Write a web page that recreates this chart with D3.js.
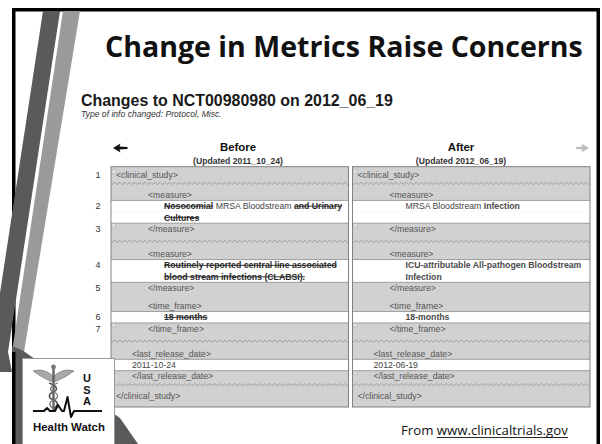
<!DOCTYPE html>
<html><head><meta charset="utf-8">
<script src="https://cdn.jsdelivr.net/npm/d3@7/dist/d3.min.js"></script>
<style>html,body{margin:0;padding:0;background:#fff;overflow:hidden}</style>
</head><body><svg id="c" width="602" height="444"></svg>
<script>
// ---------- data ----------
const slideTitle = "Change in Metrics Raise Concerns";
const pageHeading = "Changes to NCT00980980 on 2012_06_19";
const changeType = ["Type of info changed:", " Protocol, Misc."];
const versions = ["before", "after"];
const versionLabels = ["Before", "After"];
const versionDates = ["(Updated 2011_10_24)", "(Updated 2012_06_19)"];
const lineKinds = ["tag","waveS","tag","text","text","tag","waveL","tag","text","text","tag","gap","tag","text","tag","waveL","tag","text","tag","waveS","tag"];
const lineNumbers = [1,null,null,2,null,3,null,null,4,null,5,null,null,6,7,null,null,null,null,null,null];
const lineDepth = [0,0,2,3,3,2,0,2,3,3,2,0,2,3,2,0,1,1,1,0,0];
const lineMarker = [true,false,false,false,false,true,false,false,false,false,false,false,false,false,true,false,false,false,true,false,false];
const beforeText = [
  [["<clinical_study>","tag"]], [],
  [["<measure>","tag"]],
  [["Nosocomial","del"],[" MRSA Bloodstream ","same"],["and Urinary","del"]],
  [["Cultures","del"]],
  [["</measure>","tag"]], [],
  [["<measure>","tag"]],
  [["Routinely reported central line associated","del"]],
  [["blood stream infections (CLABSI).","del"]],
  [["</measure>","tag"]], [],
  [["<time_frame>","tag"]],
  [["18 months","del"]],
  [["</time_frame>","tag"]], [],
  [["<last_release_date>","tag"]],
  [["2011-10-24","same"]],
  [["</last_release_date>","tag"]], [],
  [["</clinical_study>","tag"]]
];
const afterText = [
  [["<clinical_study>","tag"]], [],
  [["<measure>","tag"]],
  [["MRSA Bloodstream ","same"],["Infection","ins"]],
  [],
  [["</measure>","tag"]], [],
  [["<measure>","tag"]],
  [["ICU-attributable All-pathogen Bloodstream","ins"]],
  [["Infection","ins"]],
  [["</measure>","tag"]], [],
  [["<time_frame>","tag"]],
  [["18-months","ins"]],
  [["</time_frame>","tag"]], [],
  [["<last_release_date>","tag"]],
  [["2012-06-19","same"]],
  [["</last_release_date>","tag"]], [],
  [["</clinical_study>","tag"]]
];
const sourceText = ["From ", "www.clinicaltrials.gov"];
const logoLetters = ["U", "S", "A"];
const logoName = "Health Watch";

// ---------- style ----------
const kindUnits = {tag:1, text:1, waveS:0.72, waveL:1.19, gap:0.56};
const fill = {gray:"#d1d1d1", white:"#ffffff", line:"#8c8c8c"};
const segStyle = {
  tag:{w:"normal", c:"#555"}, same:{w:"normal", c:"#444"},
  del:{w:"bold", c:"#2a2a2a"}, ins:{w:"bold", c:"#4a4a4a"}
};
const sans = "'Liberation Sans', Arial, sans-serif";

const svg = d3.select("#c");

function fitText(sel, width) {
  const w = sel.node().getComputedTextLength();
  const fs = parseFloat(sel.attr("font-size"));
  sel.attr("font-size", fs * width / w);
  return sel;
}

// ---------- slide frame & decoration ----------
svg.append("rect").attr("x", 13.75).attr("y", 9.75).attr("width", 584.5).attr("height", 450)
  .attr("fill", "#fff").attr("stroke", "#000").attr("stroke-width", 3.5);

svg.append("polygon").attr("points", "43,11 60,11 8,352 12,372 -12,372 -9,352").attr("fill", "#5a5a5a");
svg.append("polygon").attr("points", "63,11 80,11 24,352 12,352").attr("fill", "#9a9a9a");
svg.append("polygon").attr("points", "12,346 22,350 120,418 138,444 12,444").attr("fill", "#5a5a5a");
svg.append("line").attr("x1", 13.75).attr("x2", 13.75).attr("y1", 352).attr("y2", 444)
  .attr("stroke", "#000").attr("stroke-width", 3.5);

// ---------- title ----------
const title = svg.append("text").attr("x", 105).attr("y", 57)
  .attr("font-family", "'Open Sans', Lato, sans-serif").attr("font-weight", "bold")
  .attr("font-size", 28).attr("fill", "#111").text(slideTitle);
fitText(title, 478);

const heading = svg.append("text").attr("x", 81).attr("y", 106)
  .attr("font-family", sans).attr("font-weight", "bold").attr("font-size", 15)
  .attr("fill", "#1a1a1a").text(pageHeading);
fitText(heading, 312);

const sub = svg.append("text").attr("x", 81).attr("y", 117)
  .attr("font-family", sans).attr("font-size", 8).attr("fill", "#333");
sub.append("tspan").attr("font-style", "italic").text(changeType[0]);
sub.append("tspan").attr("font-style", "italic").text(changeType[1]);
fitText(sub, 141);

// ---------- table scales ----------
const tableTop = 166.7, tableBottom = 407, tableLeft = 111, tableRight = 590;
const units = lineKinds.map(k => kindUnits[k]);
const starts = [0, ...d3.cumsum(units)];
const totalUnits = starts[starts.length - 1];
const y = d3.scaleLinear().domain([0, totalUnits]).range([tableTop + 2.7, tableBottom - 5.3]);
const x = d3.scaleBand().domain(versions).range([tableLeft, tableRight]).paddingInner(0.0166);
const headerX = d3.scalePoint().domain(versions).range([238, 461]);
const indent = d3.scaleLinear().domain([0, 3]).range([5, 53]);

// headers
versions.forEach((v, i) => {
  svg.append("text").attr("x", headerX(v)).attr("y", 151).attr("text-anchor", "middle")
    .attr("font-family", sans).attr("font-weight", "bold").attr("font-size", 11.4)
    .attr("fill", "#111").text(versionLabels[i]);
  svg.append("text").attr("x", headerX(v)).attr("y", 164).attr("text-anchor", "middle")
    .attr("font-family", sans).attr("font-weight", "bold").attr("font-size", 8.6)
    .attr("fill", "#333").text(versionDates[i]);
});
// nav arrows
svg.append("polygon").attr("points", "113,148 120.5,143.5 119.5,146.6 127.5,146.9 127.5,149.1 119.5,149.4 120.5,152.5").attr("fill", "#111");
svg.append("polygon").attr("points", "589,148 581.5,143.5 582.5,146.6 576,146.9 576,149.1 582.5,149.4 581.5,152.5").attr("fill", "#bdbdbd");

// rows
const cols = svg.append("g");
versions.forEach(v => {
  const g = cols.append("g");
  const x0 = x(v), bw = x.bandwidth();
  g.append("rect").attr("x", x0).attr("y", tableTop).attr("width", bw).attr("height", tableBottom - tableTop)
    .attr("fill", fill.gray);
  lineKinds.forEach((k, i) => {
    if (k === "text") {
      g.append("rect").attr("x", x0).attr("y", y(starts[i])).attr("width", bw)
        .attr("height", y(starts[i + 1]) - y(starts[i])).attr("fill", fill.white);
    }
  });
  lineKinds.forEach((k, i) => {
    const prev = lineKinds[i - 1], next = lineKinds[i + 1];
    if (k === "text" && prev !== "text") {
      g.append("line").attr("x1", x0).attr("x2", x0 + bw).attr("y1", y(starts[i])).attr("y2", y(starts[i]))
        .attr("stroke", fill.line).attr("stroke-width", 0.8);
    }
    if (k === "text" && next !== "text") {
      g.append("line").attr("x1", x0).attr("x2", x0 + bw).attr("y1", y(starts[i + 1])).attr("y2", y(starts[i + 1]))
        .attr("stroke", fill.line).attr("stroke-width", 0.8);
    }
  });
  lineKinds.forEach((k, i) => {
    if (k === "waveS" || k === "waveL") {
      const yc = (y(starts[i]) + y(starts[i + 1])) / 2 - (k === "waveS" ? 1.5 : 0);
      const pts = d3.range(x0, x0 + bw + 0.1, 1).map(px => [px, yc + Math.sin((px - x0) / 5 * 2 * Math.PI) * 1.1]);
      g.append("path").attr("d", d3.line()(pts)).attr("fill", "none").attr("stroke", "#8a8a8a").attr("stroke-width", 0.7);
    }
  });
  lineMarker.forEach((m, i) => {
    if (m) {
      g.append("rect").attr("x", x0 + 1).attr("y", y(starts[i]) + 0.5).attr("width", 3.5).attr("height", 3.5)
        .attr("fill", "#e6e6e6").attr("stroke", "#aaa").attr("stroke-width", 0.5);
    }
  });
  const texts = v === "before" ? beforeText : afterText;
  texts.forEach((segs, i) => {
    let cx = x0 + indent(lineDepth[i]);
    const base = (y(starts[i]) + y(starts[i + 1])) / 2 + 3;
    segs.forEach(([t, s]) => {
      const st = segStyle[s];
      const tx = g.append("text").attr("x", cx).attr("y", base).attr("font-family", sans)
        .attr("font-size", 8.7).attr("font-weight", st.w).attr("fill", st.c)
        .attr("xml:space", "preserve").style("white-space", "pre").text(t);
      const w = tx.node().getComputedTextLength();
      if (s === "del") {
        g.append("line").attr("x1", cx).attr("x2", cx + w).attr("y1", base - 2.9).attr("y2", base - 2.9)
          .attr("stroke", st.c).attr("stroke-width", 0.9);
      }
      cx += w;
    });
  });
  g.append("rect").attr("x", x0).attr("y", tableTop).attr("width", bw).attr("height", tableBottom - tableTop)
    .attr("fill", "none").attr("stroke", "#777").attr("stroke-width", 0.9);
});

lineNumbers.forEach((n, i) => {
  if (n !== null) {
    svg.append("text").attr("x", 98).attr("y", (y(starts[i]) + y(starts[i + 1])) / 2 + 3.2)
      .attr("text-anchor", "middle").attr("font-family", sans).attr("font-size", 9)
      .attr("fill", "#333").text(n);
  }
});

// ---------- source ----------
const srcFrom = svg.append("text").attr("x", 401).attr("y", 435)
  .attr("font-family", "'Open Sans', Lato, sans-serif").attr("font-size", 12.5).attr("fill", "#111");
srcFrom.append("tspan").text(sourceText[0]).attr("xml:space", "preserve").style("white-space", "pre");
srcFrom.append("tspan").text(sourceText[1]);
fitText(srcFrom, 167);
const fromW = srcFrom.node().getSubStringLength(0, sourceText[0].length);
svg.append("line").attr("x1", 401 + fromW).attr("x2", 568).attr("y1", 437.5).attr("y2", 437.5)
  .attr("stroke", "#111").attr("stroke-width", 0.9);

// ---------- logo ----------
const logo = svg.append("g");
logo.append("rect").attr("x", 22.5).attr("y", 358.5).attr("width", 92).attr("height", 90)
  .attr("fill", "#fff").attr("stroke", "#9a9a9a").attr("stroke-width", 1);
logo.append("path").attr("d", "M53,376 C46,370 40,369 33,371 C38,374 42,378 53,382 Z").attr("fill", "#a8a8a8").attr("stroke", "#6a6a6a").attr("stroke-width", 0.6);
logo.append("path").attr("d", "M54,376 C61,370 67,369 74,371 C69,374 65,378 54,382 Z").attr("fill", "#a8a8a8").attr("stroke", "#6a6a6a").attr("stroke-width", 0.6);
logo.append("rect").attr("x", 52.3).attr("y", 367).attr("width", 2.4).attr("height", 44).attr("fill", "#666");
logo.append("circle").attr("cx", 53.5).attr("cy", 367).attr("r", 2.4).attr("fill", "#777");
logo.append("path").attr("d", "M49,383 C58,386 58,390 53.5,392 C48,394 48,398 53.5,400 C59,402 58,406 53.5,409")
  .attr("fill", "none").attr("stroke", "#555").attr("stroke-width", 1.6);
logo.append("path").attr("d", "M58,383 C49,386 49,390 53.5,392 C59,394 59,398 53.5,400 C48,402 49,406 53.5,409")
  .attr("fill", "none").attr("stroke", "#777").attr("stroke-width", 1.3);
logo.append("path").attr("d", "M33,411 L44,411 L47,408 L50,411 L55,411 L58,405 L62,411 L64,411 L67.5,397 L71,417 L74,411 L102,411")
  .attr("fill", "none").attr("stroke", "#111").attr("stroke-width", 2).attr("stroke-linejoin", "round");
const letterY = d3.scalePoint().domain(logoLetters).range([382, 405]);
logoLetters.forEach(l => {
  logo.append("text").attr("x", 87).attr("y", letterY(l)).attr("text-anchor", "middle")
    .attr("font-family", sans).attr("font-weight", "bold").attr("font-size", 11).attr("fill", "#111").text(l);
});
const hw = logo.append("text").attr("x", 33).attr("y", 431).attr("font-family", sans)
  .attr("font-weight", "bold").attr("font-size", 11).attr("fill", "#111").text(logoName);
fitText(hw, 72);
</script></body></html>
